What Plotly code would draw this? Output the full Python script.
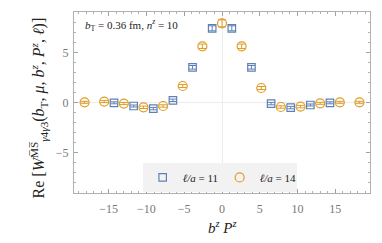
import plotly.graph_objects as go

# l/a = 11 (squares)
x11 = [-14.3, -11.7, -9.1, -6.5, -3.9, -1.3, 1.3, 3.9, 6.5, 9.1, 11.7, 14.3]
y11 = [-0.05, -0.37, -0.63, 0.2, 3.5, 7.4, 7.4, 3.5, -0.13, -0.53, -0.27, -0.05]
e11 = [0.1, 0.1, 0.12, 0.12, 0.18, 0.25, 0.25, 0.18, 0.12, 0.12, 0.1, 0.1]

# l/a = 14 (circles)
x14 = [-18.2, -15.6, -13.0, -10.4, -7.8, -5.2, -2.6, 0.0, 2.6, 5.2, 7.8, 10.4, 13.0, 15.6, 18.2]
y14 = [0.0, 0.07, -0.13, -0.5, -0.37, 1.63, 5.6, 7.9, 5.6, 1.43, -0.47, -0.43, -0.1, 0.0, 0.0]
e14 = [0.1, 0.1, 0.1, 0.12, 0.12, 0.15, 0.22, 0.35, 0.22, 0.15, 0.12, 0.12, 0.1, 0.1, 0.1]

blue = "#5E81B5"
orange = "#E19C24"
serif = "Liberation Serif"

fig = go.Figure()
fig.add_trace(go.Scatter(
    x=x11, y=y11, mode="markers", name="<i>ℓ/a</i> = 11",
    marker=dict(symbol="square-open", size=7.5, color=blue, line=dict(width=1.2)),
    error_y=dict(type="data", array=e11, color=blue, thickness=1, width=3.5),
))
fig.add_trace(go.Scatter(
    x=x14, y=y14, mode="markers", name="<i>ℓ/a</i> = 14",
    marker=dict(symbol="circle-open", size=9, color=orange, line=dict(width=1.2)),
    error_y=dict(type="data", array=e14, color=orange, thickness=1, width=4),
))

axis_common = dict(
    showline=True, linecolor="#b0b0b0", linewidth=1, mirror="ticks",
    ticks="inside", ticklen=4, tickcolor="#a0a0a0", showgrid=False,
    zeroline=True, zerolinecolor="#ececec", zerolinewidth=1,
    tickfont=dict(family=serif, size=12, color="#777777"),
    automargin=False,
)

fig.update_xaxes(
    range=[-19.6, 19.6], tickvals=[-15, -10, -5, 0, 5, 10, 15],
    minor=dict(dtick=1, ticks="inside", ticklen=2, tickcolor="#b0b0b0"),
    ticklabelstandoff=5,
    **axis_common,
)
fig.update_yaxes(
    range=[-9.07, 9.03], tickvals=[-5, 0, 5],
    minor=dict(dtick=1, ticks="inside", ticklen=2, tickcolor="#b0b0b0"),
    ticklabelstandoff=2,
    **axis_common,
)

# axis titles
fig.add_annotation(
    x=0.5, y=-0.19, xref="paper", yref="paper", xanchor="center", yanchor="middle",
    text="<i>b<sup>z</sup> P<sup>z</sup></i>", showarrow=False,
    font=dict(family=serif, size=15, color="#222"),
)
fig.add_annotation(
    x=-0.12, y=0.47, xref="paper", yref="paper", xanchor="center", yanchor="middle",
    textangle=-90, showarrow=False,
    text="Re [<i>W</i><sup>M̅S̅</sup><sub><i>γ</i>4<i>γ</i>3</sub>(<i>b</i><sub>T</sub>, <i>μ</i>, <i>b<sup>z</sup></i>, <i>P<sup>z</sup></i>, <i>ℓ</i>)]",
    font=dict(family=serif, size=16, color="#222"),
)

fig.add_annotation(
    x=0.03, y=0.928, xref="paper", yref="paper", xanchor="left", yanchor="middle",
    text="<i>b</i><sub>T</sub> = 0.36 fm, <i>n<sup>z</sup></i> = 10", showarrow=False,
    font=dict(family=serif, size=11, color="#222"),
)

fig.update_layout(
    width=382, height=243,
    margin=dict(l=74, r=12, t=12, b=50),
    paper_bgcolor="white", plot_bgcolor="white",
    legend=dict(
        orientation="h", x=0.232, y=0.006, xanchor="left", yanchor="bottom",
        bgcolor="#f2f2f2", font=dict(family=serif, size=11, color="#222"),
        itemwidth=30, entrywidth=32,
    ),
)

fig.write_html("out.html", config={"displayModeBar": False},
               post_script="document.body.style.margin='0';document.body.style.padding='0';")
